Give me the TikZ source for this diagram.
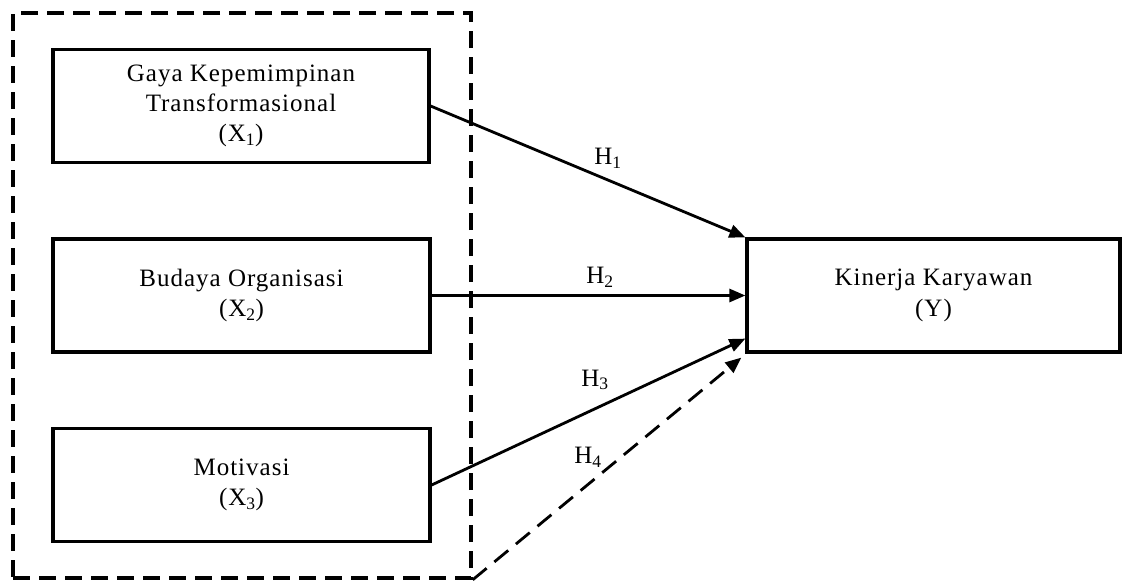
\documentclass[tikz,border=0pt]{standalone}
\usepackage{fontspec}
\setmainfont{Liberation Serif}
\usetikzlibrary{arrows.meta,calc}
\begin{document}
\begin{tikzpicture}[x=1pt,y=-1pt,
  txt/.style={font=\fontsize{25}{30}\selectfont\addfontfeature{LetterSpace=4}, align=center, inner sep=0pt},
  varbox/.style={draw, line width=3.2pt, txt, minimum width=#1, minimum height=113pt},
  groupbox/.style={draw, line width=3.5pt, dash pattern=on 17pt off 9pt, minimum width=458pt, minimum height=565pt, inner sep=0pt},
  arr/.style={line width=2.8pt, -{Triangle[length=16pt,width=13pt]}},
  dasharr/.style={arr, dash pattern=on 18pt off 10pt},
  hlab/.style={txt}
]
\useasboundingbox (0,0) rectangle (1125,581);
\node[groupbox] (grp) at (242,295.5) {};
\node[varbox=376pt] (gaya) at (241,106) {Gaya Kepemimpinan\\Transformasional\\(X\textsubscript{1})};
\node[varbox=377pt] (bud) at (241.5,295.5) {Budaya Organisasi\\(X\textsubscript{2})};
\node[varbox=377pt] (mot) at (241.5,485) {Motivasi\\(X\textsubscript{3})};
\node[varbox=373pt, font=\fontsize{25}{31}\selectfont\addfontfeature{LetterSpace=4}] (kin) at (933.5,295.5) {Kinerja Karyawan\\(Y)};
\draw[arr] (gaya.east) -- (kin.north west);
\draw[arr] (bud.east) -- (kin.west);
\coordinate (h3end) at ($(kin.south west)+(0,-15)$);
\draw[arr] (mot.east) -- (h3end);
\coordinate (h4end) at ($(kin.south west)+(-4,4)$);
\draw[dasharr] (grp.south east) -- (h4end);
\node[hlab] (h1) at (608,158) {H\textsubscript{1}};
\node[hlab] (h2) at (600,277) {H\textsubscript{2}};
\node[hlab] (h3) at (595,380) {H\textsubscript{3}};
\node[hlab] (h4) at (588,457) {H\textsubscript{4}};
\end{tikzpicture}
\end{document}
